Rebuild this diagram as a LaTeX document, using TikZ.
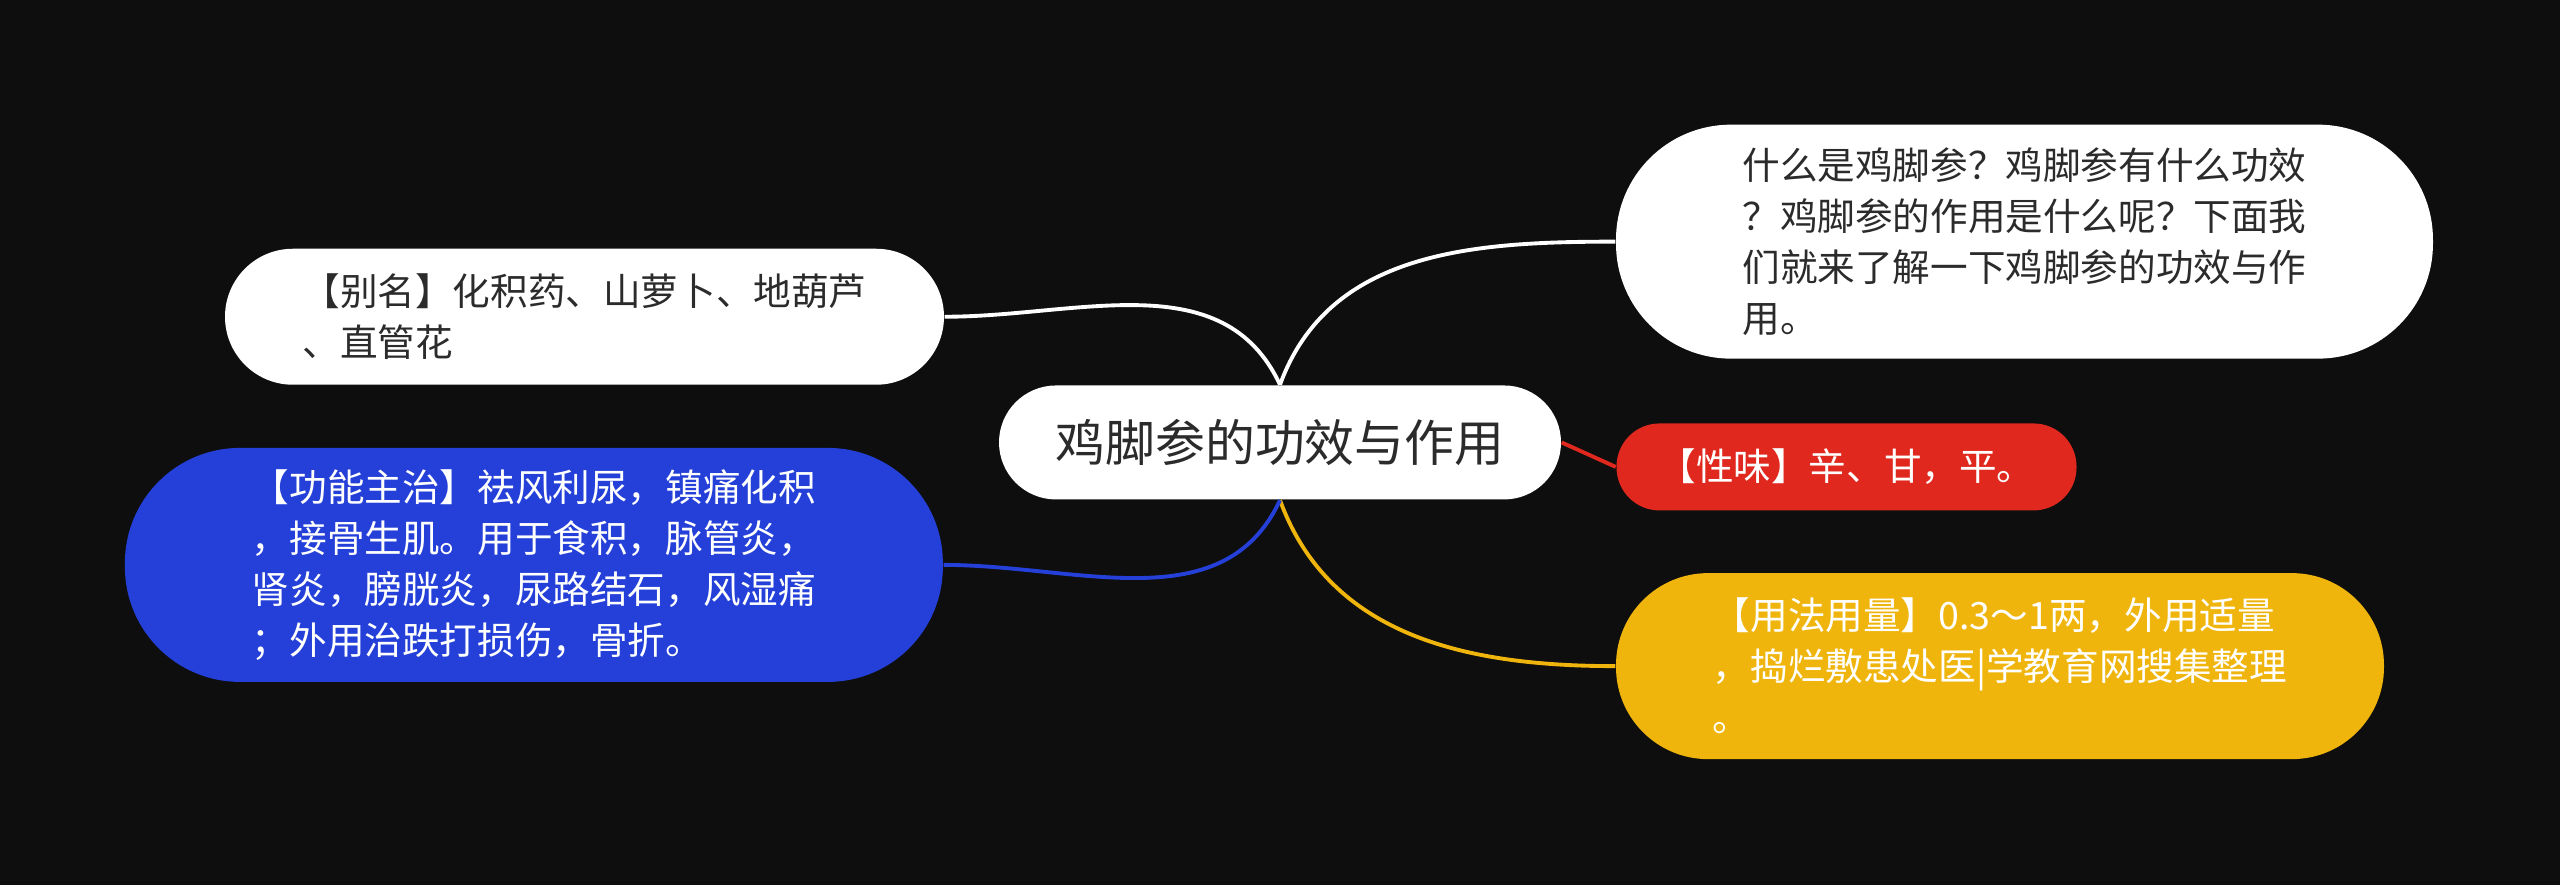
\documentclass[tikz,border=0pt]{standalone}
\usepackage{fontspec}
\setmainfont{Noto Sans CJK SC}
\usetikzlibrary{positioning}
\definecolor{bgblack}{HTML}{0E0E0E}
\definecolor{txtdark}{HTML}{2B2B2B}
\definecolor{bluefill}{HTML}{2440D8}
\definecolor{redfill}{HTML}{E0281E}
\definecolor{yellowfill}{HTML}{EFB50C}
\tikzset{
  topic/.style={align=left, inner sep=0pt, font=\fontsize{10.7}{14.5}\selectfont},
  wbox/.style={topic, fill=white, text=txtdark},
  cbox/.style={topic, text=white},
  link/.style={line width=1.1pt}
}
\begin{document}
\begin{tikzpicture}[x=0.01633cm, y=-0.01633cm]
    % background
    \fill[bgblack] (0,0) rectangle (1568,542);

    % centre topic
    \node[wbox, minimum width=5.62cm, minimum height=1.14cm, rounded corners=0.57cm,
          font=\fontsize{14.2}{17}\selectfont] (ctr) at (784,271) {鸡脚参的功效与作用};

    % right side
    \node[wbox, minimum width=8.17cm, minimum height=2.34cm, rounded corners=1.15cm] (intro) at (1240,148)
      {什么是鸡脚参？鸡脚参有什么功效\\？鸡脚参的作用是什么呢？下面我\\们就来了解一下鸡脚参的功效与作\\用。};
    \node[cbox, fill=redfill, minimum width=4.6cm, minimum height=0.87cm, rounded corners=0.43cm] (taste) at (1131,286)
      {【性味】辛、甘，平。};
    \node[cbox, fill=yellowfill, minimum width=7.68cm, minimum height=1.86cm, rounded corners=0.92cm] (usage) at (1225,408)
      {【用法用量】0.3～1两，外用适量\\，捣烂敷患处医|学教育网搜集整理\\。};

    % left side
    \node[wbox, minimum width=7.19cm, minimum height=1.36cm, rounded corners=0.68cm] (alias) at (358,194)
      {【别名】化积药、山萝卜、地葫芦\\、直管花};
    \node[cbox, fill=bluefill, minimum width=8.18cm, minimum height=2.34cm, rounded corners=1.15cm] (func) at (327,346)
      {【功能主治】祛风利尿，镇痛化积\\，接骨生肌。用于食积，脉管炎，\\肾炎，膀胱炎，尿路结石，风湿痛\\；外用治跌打损伤，骨折。};

    % connectors
    \draw[link, white] (ctr.north) to[out=70, in=180] (intro.west);
    \draw[link, redfill] (ctr.east) -- (taste.west);
    \draw[link, yellowfill] (ctr.south) to[out=-70, in=180] (usage.west);
    \draw[link, white] (ctr.north) to[out=115, in=0] (alias.east);
    \draw[link, bluefill] (ctr.south) to[out=-115, in=0] (func.east);
\end{tikzpicture}
\end{document}
